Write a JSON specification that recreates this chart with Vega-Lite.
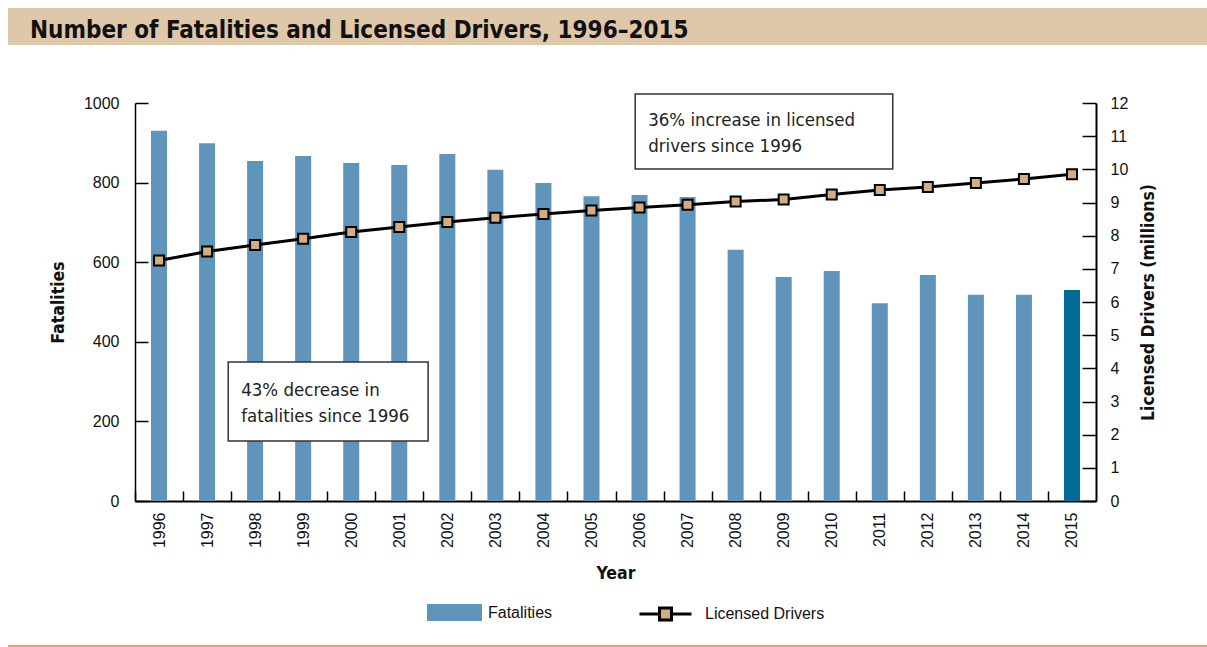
{
  "$schema": "https://vega.github.io/schema/vega-lite/v6.json",
  "background": "white",
  "padding": {"left": 8, "top": 8, "right": 0, "bottom": 0},
  "config": {
    "view": {"stroke": null},
    "axis": {
      "labelFont": "Liberation Sans", "labelFontSize": 16, "labelColor": "#111",
      "titleFont": "DejaVu Sans Condensed, Liberation Sans, sans-serif", "titleFontWeight": "bold", "titleFontSize": 17.5, "titleColor": "#111",
      "domainColor": "#000", "tickColor": "#000", "grid": false
    },
    "legend": {"labelFont": "Liberation Sans", "labelFontSize": 16, "labelColor": "#111"}
  },
  "datasets": {
    "main": [
      {"year": 1996, "fatalities": 930, "drivers": 7.25},
      {"year": 1997, "fatalities": 899, "drivers": 7.52},
      {"year": 1998, "fatalities": 854, "drivers": 7.72},
      {"year": 1999, "fatalities": 867, "drivers": 7.91},
      {"year": 2000, "fatalities": 849, "drivers": 8.11},
      {"year": 2001, "fatalities": 844, "drivers": 8.26},
      {"year": 2002, "fatalities": 872, "drivers": 8.41},
      {"year": 2003, "fatalities": 832, "drivers": 8.54},
      {"year": 2004, "fatalities": 799, "drivers": 8.65},
      {"year": 2005, "fatalities": 766, "drivers": 8.76},
      {"year": 2006, "fatalities": 769, "drivers": 8.85},
      {"year": 2007, "fatalities": 764, "drivers": 8.93},
      {"year": 2008, "fatalities": 631, "drivers": 9.03},
      {"year": 2009, "fatalities": 563, "drivers": 9.09},
      {"year": 2010, "fatalities": 578, "drivers": 9.24},
      {"year": 2011, "fatalities": 497, "drivers": 9.38},
      {"year": 2012, "fatalities": 568, "drivers": 9.47},
      {"year": 2013, "fatalities": 518, "drivers": 9.59},
      {"year": 2014, "fatalities": 518, "drivers": 9.71},
      {"year": 2015, "fatalities": 530, "drivers": 9.85}
    ],
    "boxes": [
      {"x1": 1997.44, "x2": 2001.6, "y1": 150.8, "y2": 349.2},
      {"x1": 2005.91, "x2": 2011.27, "y1": 834.2, "y2": 1022.6}
    ],
    "notes": [
      {"tx": 1997.71, "ty": 264.6, "lines": ["43% decrease in", "fatalities since 1996"]},
      {"tx": 2006.18, "ty": 943, "lines": ["36% increase in licensed", "drivers since 1996"]}
    ]
  },
  "spacing": 48,
  "align": "none",
  "resolve": {"legend": {"fill": "independent", "stroke": "independent"}},
  "vconcat": [
    {
      "width": 1199, "height": 37,
      "view": {"fill": "#dfc8aa", "stroke": null},
      "data": {"values": [{}]},
      "mark": {"type": "text"},
      "encoding": {"text": {"value": ""}},
      "title": {
        "text": "Number of Fatalities and Licensed Drivers, 1996–2015",
        "anchor": "start", "frame": "group", "orient": "top", "offset": 0,
        "baseline": "alphabetic", "dx": 22, "dy": 54,
        "font": "DejaVu Sans Condensed, Liberation Sans, sans-serif", "fontSize": 24, "fontWeight": "bold", "color": "#111"
      }
    },
    {
      "spacing": 13,
      "align": "none",
      "resolve": {"legend": {"fill": "independent", "stroke": "independent"}},
      "vconcat": [
        {
          "spacing": 20,
          "resolve": {"legend": {"fill": "independent", "stroke": "independent"}},
          "hconcat": [
            {
              "width": 21, "height": 10,
              "data": {"values": [{}]},
              "mark": {"type": "text"},
              "encoding": {"text": {"value": ""}}
            },
            {
              "width": 961, "height": 398,
              "data": {"name": "main"},
              "resolve": {
                "scale": {"x": "independent", "y": "independent"},
                "axis": {"x": "independent", "y": "independent"}
              },
              "layer": [
                {
                  "mark": {"type": "bar"},
                  "encoding": {
                    "x": {
                      "field": "year", "type": "ordinal",
                      "scale": {"paddingInner": 0.667, "paddingOuter": 0.333},
                      "axis": {
                        "title": "Year", "labelAngle": -90, "tickSize": -10,
                        "tickOffset": -24, "labelOffset": 24, "labelPadding": 21,
                        "titlePadding": 17, "domainWidth": 2, "tickWidth": 1.5
                      }
                    },
                    "y": {
                      "field": "fatalities", "type": "quantitative",
                      "scale": {"domain": [0, 1000], "nice": false},
                      "axis": {
                        "title": "Fatalities", "values": [0, 200, 400, 600, 800, 1000], "format": "d",
                        "tickSize": -13, "labelPadding": 29, "titlePadding": 16,
                        "domainWidth": 1.5, "tickWidth": 1.5
                      }
                    },
                    "fill": {
                      "condition": {"test": "datum.year == 2015", "value": "#006a99"},
                      "datum": "Fatalities", "type": "nominal",
                      "scale": {"range": ["#5f95ba"]},
                      "legend": {
                        "title": null, "orient": "none", "legendX": 292, "legendY": 482,
                        "symbolType": "M-1,-0.31H1V0.31H-1Z", "symbolSize": 3025,
                        "symbolStrokeWidth": 0, "labelOffset": 6
                      }
                    }
                  }
                },
                {
                  "mark": {
                    "type": "line", "strokeWidth": 3,
                    "point": {"shape": "square", "filled": true, "fill": "#d4ad80", "stroke": "#000", "strokeWidth": 2, "size": 100}
                  },
                  "encoding": {
                    "x": {"field": "year", "type": "ordinal", "axis": null},
                    "y": {
                      "field": "drivers", "type": "quantitative",
                      "scale": {"domain": [0, 12], "nice": false},
                      "axis": {
                        "orient": "right", "title": "Licensed Drivers (millions)",
                        "values": [0, 1, 2, 3, 4, 5, 6, 7, 8, 9, 10, 11, 12],
                        "tickSize": -14, "labelPadding": 28, "titlePadding": 12,
                        "titleAngle": 270, "titleBaseline": "top",
                        "domainWidth": 2, "tickWidth": 1.5
                      }
                    },
                    "stroke": {
                      "datum": "Licensed Drivers", "type": "nominal",
                      "scale": {"range": ["#000000"]},
                      "legend": {
                        "title": null, "orient": "none", "legendX": 503, "legendY": 483.5,
                        "symbolType": "M-1,0H-0.23M0.23,0H1M-0.23,-0.23H0.23V0.23H-0.23Z",
                        "symbolSize": 2704, "symbolStrokeWidth": 3,
                        "symbolFillColor": "#d4ad80", "labelOffset": 12
                      }
                    }
                  }
                },
                {
                  "data": {"name": "boxes"},
                  "mark": {"type": "rect", "fill": "white", "stroke": "#333", "strokeWidth": 1.5},
                  "encoding": {
                    "x": {"field": "x1", "type": "quantitative", "scale": {"domain": [1995.5, 2015.5], "nice": false, "zero": false}, "axis": null},
                    "x2": {"field": "x2"},
                    "y": {"field": "y1", "type": "quantitative", "scale": {"domain": [0, 1000], "nice": false}, "axis": null},
                    "y2": {"field": "y2"}
                  }
                },
                {
                  "data": {"name": "notes"},
                  "mark": {
                    "type": "text", "align": "left", "baseline": "alphabetic",
                    "font": "DejaVu Sans Condensed, Liberation Sans, sans-serif", "fontSize": 18.5, "lineHeight": 26, "color": "#222"
                  },
                  "encoding": {
                    "x": {"field": "tx", "type": "quantitative", "scale": {"domain": [1995.5, 2015.5], "nice": false, "zero": false}, "axis": null},
                    "y": {"field": "ty", "type": "quantitative", "scale": {"domain": [0, 1000], "nice": false}, "axis": null},
                    "text": {"field": "lines"}
                  }
                }
              ]
            }
          ]
        },
        {
          "width": 1199, "height": 2,
          "view": {"fill": "#d9ab70", "stroke": null},
          "data": {"values": [{}]},
          "mark": {"type": "text"},
          "encoding": {"text": {"value": ""}}
        }
      ]
    }
  ]
}
